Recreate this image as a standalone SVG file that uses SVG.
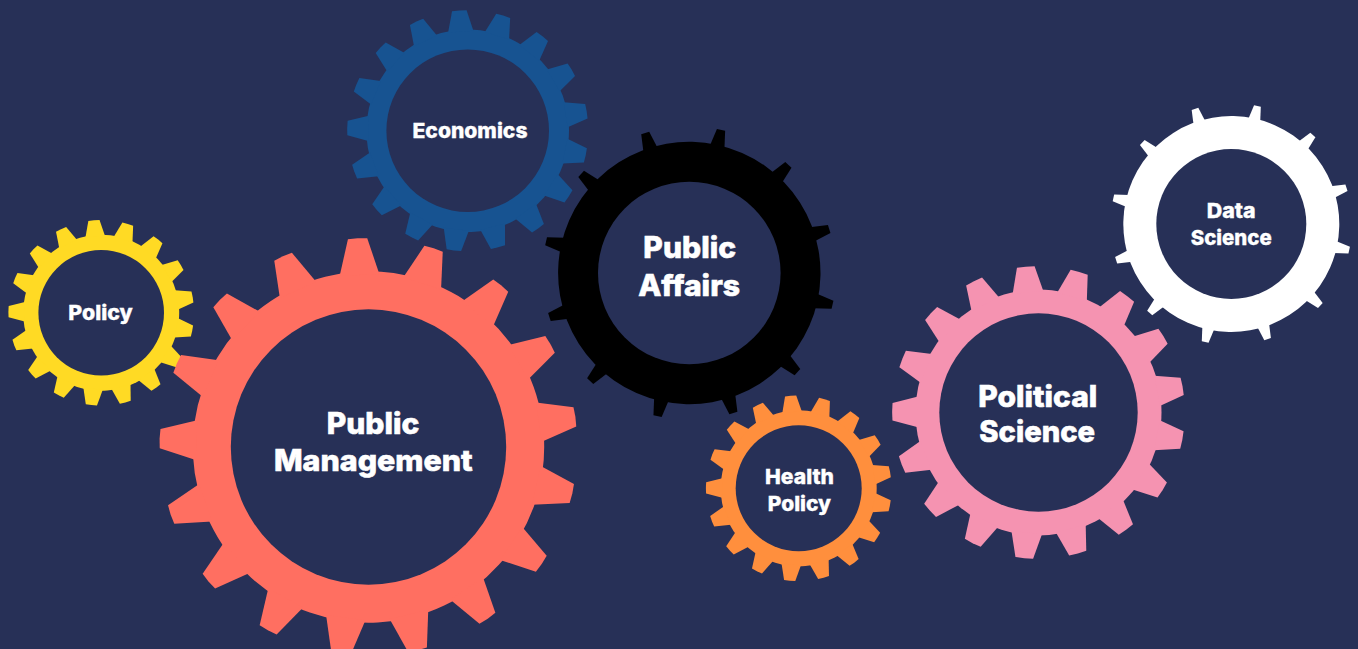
<svg xmlns="http://www.w3.org/2000/svg" xmlns:xlink="http://www.w3.org/1999/xlink" width="1358" height="649" viewBox="0 0 1358 649">
<style>
.hole{fill:#273057}
text{font-family:Inter,"Liberation Sans",Arial,sans-serif;font-weight:800;fill:#fff;stroke:#fff;text-anchor:middle}
.lg{font-size:29.5px;stroke-width:.6px}
.sm{font-size:20.5px;stroke-width:.35px}
.coral{fill:#FF6F61}.blue{fill:#175391}.black{fill:#000}.white{fill:#fff}.pink{fill:#F593B1}.yellow{fill:#FFDA24}.orange{fill:#FF8F3D}
</style>
<defs>
<polygon id="t17" points="-11.3,-98 -5.5,-118.7 0,-119 5.5,-118.7 11.3,-98"/>
<polygon id="t17w" points="-12.5,-98 -7.2,-118.7 0,-119 7.2,-118.7 12.5,-98"/>
<polygon id="t12" points="-5.7,-98 -3.2,-111.8 3.2,-111.8 5.7,-98"/>
<g id="gear17">
<circle r="100"/>
<use href="#t17"/>
<use href="#t17" transform="rotate(21.176)"/>
<use href="#t17" transform="rotate(42.353)"/>
<use href="#t17" transform="rotate(63.529)"/>
<use href="#t17" transform="rotate(84.706)"/>
<use href="#t17" transform="rotate(105.882)"/>
<use href="#t17" transform="rotate(127.059)"/>
<use href="#t17" transform="rotate(148.235)"/>
<use href="#t17" transform="rotate(169.412)"/>
<use href="#t17" transform="rotate(190.588)"/>
<use href="#t17" transform="rotate(211.765)"/>
<use href="#t17" transform="rotate(232.941)"/>
<use href="#t17" transform="rotate(254.118)"/>
<use href="#t17" transform="rotate(275.294)"/>
<use href="#t17" transform="rotate(296.471)"/>
<use href="#t17" transform="rotate(317.647)"/>
<use href="#t17" transform="rotate(338.824)"/>
</g>
<g id="gear17w">
<circle r="100"/>
<use href="#t17w"/>
<use href="#t17w" transform="rotate(21.176)"/>
<use href="#t17w" transform="rotate(42.353)"/>
<use href="#t17w" transform="rotate(63.529)"/>
<use href="#t17w" transform="rotate(84.706)"/>
<use href="#t17w" transform="rotate(105.882)"/>
<use href="#t17w" transform="rotate(127.059)"/>
<use href="#t17w" transform="rotate(148.235)"/>
<use href="#t17w" transform="rotate(169.412)"/>
<use href="#t17w" transform="rotate(190.588)"/>
<use href="#t17w" transform="rotate(211.765)"/>
<use href="#t17w" transform="rotate(232.941)"/>
<use href="#t17w" transform="rotate(254.118)"/>
<use href="#t17w" transform="rotate(275.294)"/>
<use href="#t17w" transform="rotate(296.471)"/>
<use href="#t17w" transform="rotate(317.647)"/>
<use href="#t17w" transform="rotate(338.824)"/>
</g>
<g id="gear12">
<circle r="100"/>
<use href="#t12"/>
<use href="#t12" transform="rotate(30)"/>
<use href="#t12" transform="rotate(60)"/>
<use href="#t12" transform="rotate(90)"/>
<use href="#t12" transform="rotate(120)"/>
<use href="#t12" transform="rotate(150)"/>
<use href="#t12" transform="rotate(180)"/>
<use href="#t12" transform="rotate(210)"/>
<use href="#t12" transform="rotate(240)"/>
<use href="#t12" transform="rotate(270)"/>
<use href="#t12" transform="rotate(300)"/>
<use href="#t12" transform="rotate(330)"/>
</g>
</defs>
<rect width="1358" height="649" fill="#273057"/>
<g id="policy" class="yellow">
<use href="#gear17w" transform="translate(101.2 312.8) rotate(-4.5) scale(.78)"/>
<circle class="hole" cx="101.2" cy="312.8" r="62.8"/>
<text class="sm" x="100.5" y="319.5" textLength="64.5" lengthAdjust="spacingAndGlyphs">Policy</text>
</g>
<g id="economics" class="blue">
<use href="#gear17w" transform="translate(467.7 130.7) rotate(-4) scale(1.013)"/>
<circle class="hole" cx="467.7" cy="130.7" r="81.3"/>
<text class="sm" x="470" y="137.5" textLength="115" lengthAdjust="spacingAndGlyphs">Economics</text>
</g>
<g id="public-management" class="coral">
<use href="#gear17" transform="translate(368.5 447) rotate(-3) scale(1.757)"/>
<circle class="hole" cx="368.5" cy="447" r="137.7"/>
<text class="lg" x="373" y="434" textLength="92.6" lengthAdjust="spacingAndGlyphs">Public</text>
<text class="lg" x="373.3" y="470.7" textLength="198.7" lengthAdjust="spacingAndGlyphs">Management</text>
</g>
<g id="public-affairs" class="black">
<use href="#gear12" transform="translate(689.3 273) rotate(12.5) scale(1.312)"/>
<circle class="hole" cx="689.3" cy="273" r="91.3"/>
<text class="lg" x="689.7" y="258.3" textLength="92.7" lengthAdjust="spacingAndGlyphs">Public</text>
<text class="lg" x="689.2" y="295.7" textLength="101.7" lengthAdjust="spacingAndGlyphs">Affairs</text>
</g>
<g id="data-science" class="white">
<use href="#gear12" transform="translate(1231.3 224) rotate(12.5) scale(1.08)"/>
<circle class="hole" cx="1231.3" cy="224" r="75"/>
<text class="sm" x="1231.2" y="217.7" textLength="49" lengthAdjust="spacingAndGlyphs">Data</text>
<text class="sm" x="1231.2" y="244.5" textLength="81" lengthAdjust="spacingAndGlyphs">Science</text>
</g>
<g id="political-science" class="pink">
<use href="#gear17w" transform="translate(1038.5 412.5) rotate(-5) scale(1.23)"/>
<circle class="hole" cx="1038.5" cy="412.5" r="99.2"/>
<text class="lg" x="1037.8" y="406.7" textLength="119" lengthAdjust="spacingAndGlyphs">Political</text>
<text class="lg" x="1037.2" y="442.3" textLength="115.7" lengthAdjust="spacingAndGlyphs">Science</text>
</g>
<g id="health-policy" class="orange">
<use href="#gear17w" transform="translate(798.7 488.3) rotate(-5) scale(.78)"/>
<circle class="hole" cx="798.7" cy="488.3" r="63"/>
<text class="sm" x="799.5" y="484" textLength="69" lengthAdjust="spacingAndGlyphs">Health</text>
<text class="sm" x="799.4" y="510.7" textLength="63.3" lengthAdjust="spacingAndGlyphs">Policy</text>
</g>
</svg>
